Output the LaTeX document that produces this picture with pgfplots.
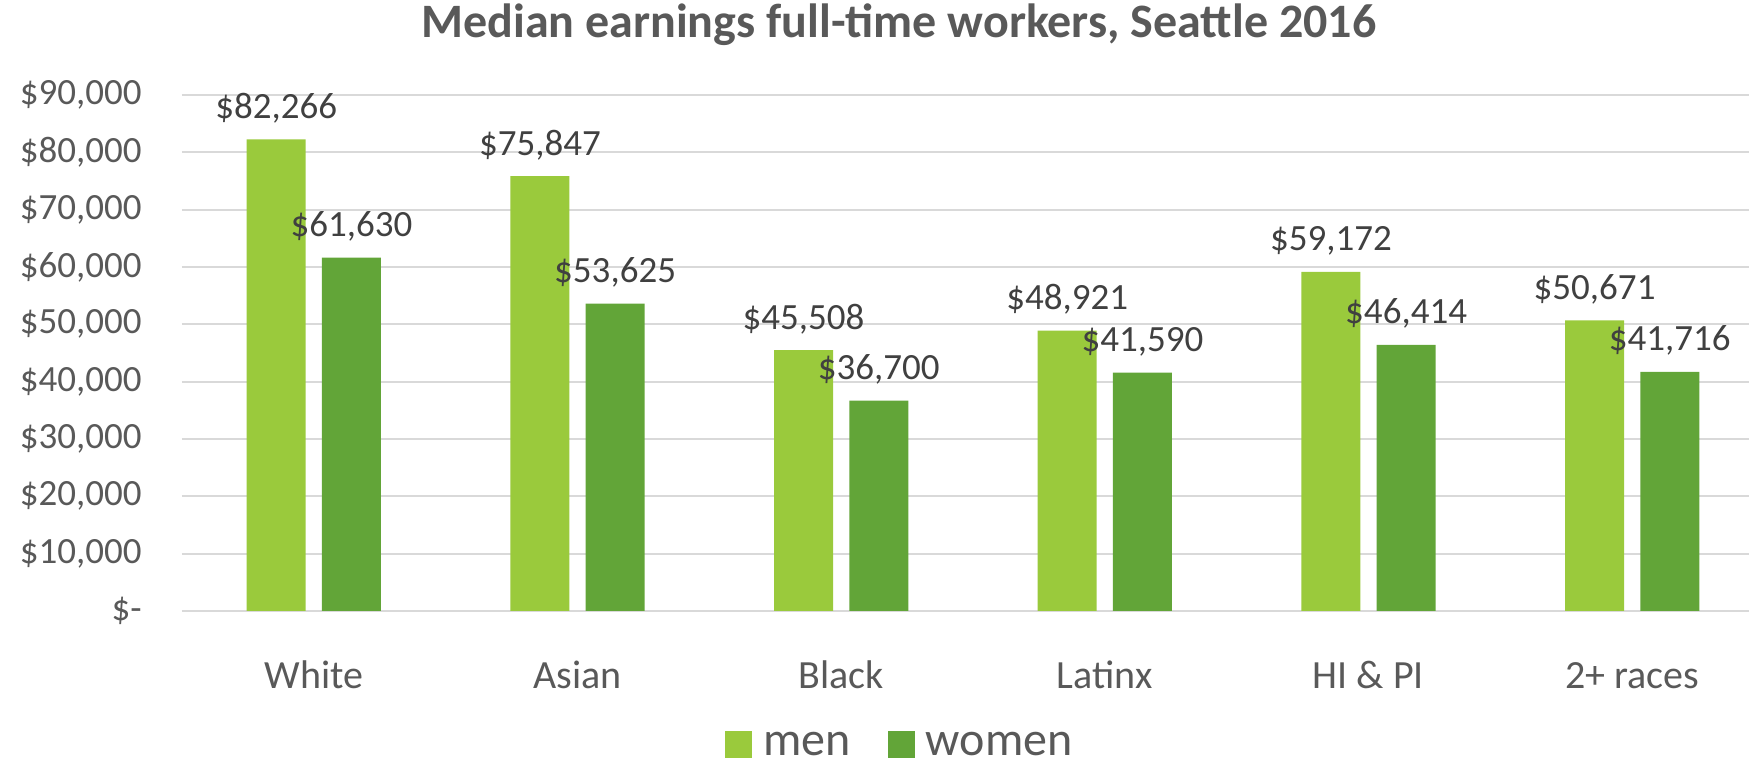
\documentclass[border=0pt]{standalone}
\usepackage{fontspec}
\setmainfont{Carlito}
\usepackage{pgfplots}
\pgfplotsset{compat=1.18}
\definecolor{men green}{RGB}{154,202,60}
\definecolor{women green}{RGB}{98,165,56}
\definecolor{axis gray}{RGB}{89,89,89}
\definecolor{label gray}{RGB}{64,64,64}
\definecolor{grid gray}{RGB}{217,217,217}

\begin{document}
\begin{tikzpicture}
	\begin{axis}[
		scale only axis,
		width=791pt,
		height=258pt,
		xmin=-0.5, xmax=5.5,
		ymin=0, ymax=90000,
		enlargelimits=false,
		axis line style={draw=none},
		tick style={draw=none},
		ymajorgrids,
		grid style={grid gray, line width=1pt},
		scaled y ticks=false,
		ytick={0,10000,...,90000},
		yticklabels={{\$-\hspace{8.5pt}},{\$10,000},{\$20,000},{\$30,000},{\$40,000},{\$50,000},{\$60,000},{\$70,000},{\$80,000},{\$90,000}},
		yticklabel style={font=\fontsize{18.5}{20}\selectfont, text=axis gray, inner sep=0pt, anchor=east, xshift=-20pt},
		xtick={0,...,5},
		xticklabels={White,Asian,Black,Latinx,HI \& PI,2+ races},
		xticklabel style={font=\fontsize{20}{22}\selectfont, text=axis gray, inner sep=0pt, anchor=base, yshift=-34.5pt},
		ybar,
		bar width=29.5pt,
		point meta=explicit symbolic,
		nodes near coords,
		every node near coord/.append style={font=\fontsize{18.5}{20}\selectfont, text=label gray, anchor=base, inner sep=0pt, yshift=10.5pt},
		title={Median earnings full-time workers, Seattle 2016},
		every axis title shift=0pt,
		title style={font=\fontsize{24}{26}\selectfont\bfseries, text=axis gray, at={(axis description cs:0.4532,1.1357)}, anchor=center, inner sep=0pt},
		legend columns=2,
		legend style={draw=none, at={(axis description cs:0.4532,-0.2597)}, anchor=center,
			font=\fontsize{24}{26}\selectfont, text=axis gray,
			nodes={inner sep=0pt},
			/tikz/every odd column/.append style={column sep=5.5pt},
			/tikz/every even column/.append style={column sep=18.5pt}},
		legend image code/.code={\fill[#1] (0pt,-6.75pt) rectangle (13.5pt,6.75pt);},
	]
		\addplot[fill=men green, draw=none, bar shift=-18.8pt] coordinates {
			(0,82266) [\$82,266]
			(1,75847) [\$75,847]
			(2,45508) [\$45,508]
			(3,48921) [\$48,921]
			(4,59172) [\$59,172]
			(5,50671) [\$50,671]
		};
		\addplot[fill=women green, draw=none, bar shift=18.8pt] coordinates {
			(0,61630) [\$61,630]
			(1,53625) [\$53,625]
			(2,36700) [\$36,700]
			(3,41590) [\$41,590]
			(4,46414) [\$46,414]
			(5,41716) [\$41,716]
		};
		\legend{men,women}
	\end{axis}
	\pgfresetboundingbox
	\path (current axis.south west) ++(-91pt,-76.5pt) rectangle ([shift={(-91pt+874.5pt,-76.5pt+382pt)}]current axis.south west);
\end{tikzpicture}
\end{document}
